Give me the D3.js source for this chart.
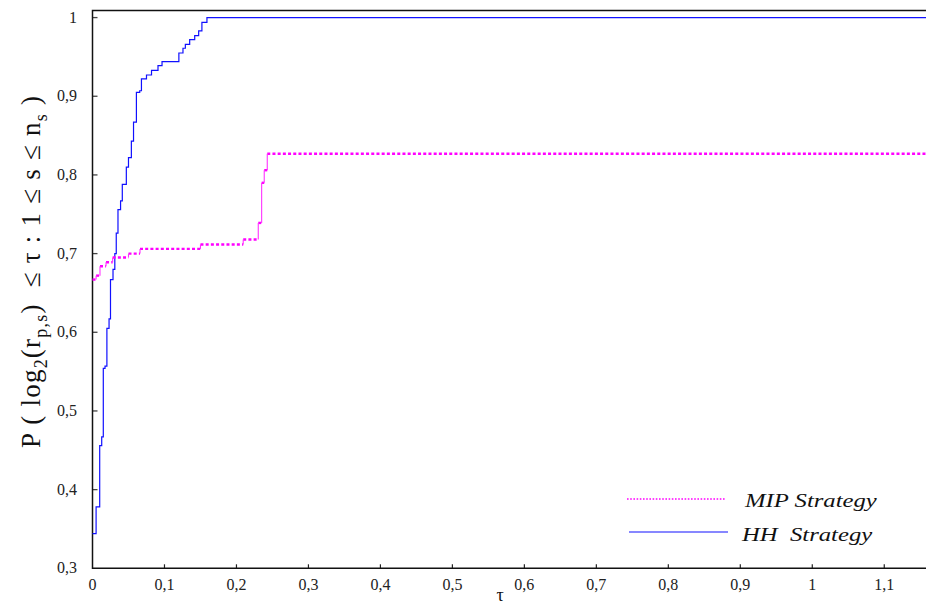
<!DOCTYPE html>
<html>
<head>
<meta charset="utf-8">
<script src="https://cdn.jsdelivr.net/npm/d3@7"></script>
<style>
  body { margin: 0; background: #fff; }
</style>
</head>
<body>
<script>
var width  = 926;
var height = 607;

// performance profile data (tau, fraction), step after
var hhTau = [0, 0.005, 0.010, 0.0128, 0.015, 0.0174, 0.020, 0.023, 0.025, 0.0285, 0.031, 0.033,
             0.0354, 0.039, 0.0414, 0.047, 0.050, 0.054, 0.057, 0.061, 0.0656, 0.068, 0.075,
             0.082, 0.091, 0.0966, 0.120, 0.1257, 0.129, 0.135, 0.142, 0.1475, 0.152, 0.159, 1.16];
var hhVal = [0.344, 0.378, 0.456, 0.467, 0.554, 0.557, 0.605, 0.617, 0.667, 0.680, 0.700, 0.726,
             0.756, 0.767, 0.788, 0.810, 0.822, 0.843, 0.867, 0.905, 0.907, 0.922, 0.927,
             0.933, 0.939, 0.944, 0.955, 0.961, 0.966, 0.972, 0.977, 0.983, 0.994, 1.0, 1.0];

var mipTau = [0, 0.005, 0.0104, 0.0188, 0.028, 0.050, 0.066, 0.150, 0.2094, 0.2303, 0.235, 0.2386, 0.2428, 1.16];
var mipVal = [0.667, 0.672, 0.684, 0.689, 0.695, 0.700, 0.706, 0.7115, 0.718, 0.739, 0.790, 0.806, 0.827, 0.827];

var xTicks = [0, 0.1, 0.2, 0.3, 0.4, 0.5, 0.6, 0.7, 0.8, 0.9, 1, 1.1];
var yTicks = [0.3, 0.4, 0.5, 0.6, 0.7, 0.8, 0.9, 1];
var seriesNames = ['MIP Strategy', 'HH  Strategy'];

var serif = "'Liberation Serif', 'Times New Roman', Times, serif";
var margin = { left: 92.5, top: 10.5, right: 0, bottom: 38.7 };

var x = d3.scaleLinear().domain([0, 1.158]).range([margin.left, width - margin.right]);
var y = d3.scaleLinear().domain([0.3, 1.009]).range([height - margin.bottom, margin.top]);

var fmt = function(d){ return String(d).replace('.', ','); };

var svg = d3.select('body')
            .append('svg')
            .attr('width', width)
            .attr('height', height)
            .attr('font-family', serif)
            .style('font-family', serif);

// ticks (inside)
svg.append('g').selectAll('line')
   .data(yTicks.slice(1))
   .enter().append('line')
   .attr('x1', x(0)).attr('x2', x(0) + 5)
   .attr('y1', function(d){ return y(d); }).attr('y2', function(d){ return y(d); })
   .attr('stroke', '#444').attr('stroke-width', 1.3);

svg.append('g').selectAll('line')
   .data(xTicks.slice(1))
   .enter().append('line')
   .attr('x1', function(d){ return x(d); }).attr('x2', function(d){ return x(d); })
   .attr('y1', y(0.3)).attr('y2', y(0.3) - 4)
   .attr('stroke', '#222').attr('stroke-width', 1.2);

// tick labels
svg.append('g').selectAll('text')
   .data(yTicks)
   .enter().append('text')
   .attr('x', 77).attr('y', function(d){ return y(d) + 5; })
   .attr('text-anchor', 'end')
   .attr('font-size', 16).attr('fill', '#222')
   .text(fmt);

svg.append('g').selectAll('text')
   .data(xTicks)
   .enter().append('text')
   .attr('x', function(d){ return x(d); }).attr('y', 590)
   .attr('text-anchor', 'middle')
   .attr('font-size', 16).attr('fill', '#222')
   .text(fmt);

// frame: left, bottom, top
svg.append('path')
   .attr('d', 'M' + width + ',' + y(1.009) + 'H' + x(0) + 'V' + y(0.3) + 'H' + width)
   .attr('fill', 'none').attr('stroke', '#111').attr('stroke-width', 1.5);

// HH series
var hh = hhTau.map(function(t, i){ return [t, hhVal[i]]; });
var line = d3.line()
             .x(function(d){ return x(d[0]); })
             .y(function(d){ return y(d[1]); })
             .curve(d3.curveStepAfter);

svg.append('path')
   .attr('d', line(hh))
   .attr('fill', 'none').attr('stroke', '#1010ff').attr('stroke-width', 1.2);

// MIP series: dotted flats, thin risers
var mip = mipTau.map(function(t, i){ return [t, mipVal[i]]; });
var flats = mip.slice(0, -1).map(function(d, i){ return [d, mip[i + 1]]; });

svg.append('g').selectAll('line')
   .data(flats)
   .enter().append('line')
   .attr('x1', function(d){ return x(d[0][0]); })
   .attr('x2', function(d){ return x(d[1][0]); })
   .attr('y1', function(d){ return y(d[0][1]); })
   .attr('y2', function(d){ return y(d[0][1]); })
   .attr('stroke', '#ff00ff').attr('stroke-width', 2.4)
   .attr('stroke-dasharray', '3,2.2');

svg.append('g').selectAll('line')
   .data(flats)
   .enter().append('line')
   .attr('x1', function(d){ return x(d[1][0]); })
   .attr('x2', function(d){ return x(d[1][0]); })
   .attr('y1', function(d){ return y(d[0][1]); })
   .attr('y2', function(d){ return y(d[1][1]); })
   .attr('stroke', '#ff33ff').attr('stroke-width', 1.1);

// legend
svg.append('line')
   .attr('x1', 627).attr('x2', 725).attr('y1', 499).attr('y2', 499)
   .attr('stroke', '#ff00ff').attr('stroke-width', 1.6)
   .attr('stroke-dasharray', '1.6,1.6');
svg.append('line')
   .attr('x1', 629).attr('x2', 728).attr('y1', 532).attr('y2', 532)
   .attr('stroke', '#1010ff').attr('stroke-width', 1.2);

svg.append('g').selectAll('text')
   .data(seriesNames)
   .enter().append('text')
   .attr('transform', function(d, i){
       return i === 0 ? 'translate(745,507) scale(1.3,1)' : 'translate(742,541) scale(1.3,1)';
   })
   .attr('font-size', 19).attr('font-style', 'italic').attr('fill', '#111')
   .style('white-space', 'pre')
   .text(function(d){ return d; });

// axis titles
svg.append('text')
   .attr('x', 500).attr('y', 601)
   .attr('text-anchor', 'middle')
   .attr('font-size', 18).attr('fill', '#111')
   .text('τ');

var ylab = svg.append('text')
   .attr('transform', 'translate(40,272) rotate(-90)')
   .attr('text-anchor', 'middle')
   .attr('font-size', 27).attr('fill', '#111')
   .attr('textLength', 352).attr('lengthAdjust', 'spacing');
ylab.append('tspan').style('white-space', 'pre').text('P ( log');
ylab.append('tspan').attr('font-size', 18).attr('dy', 7).text('2');
ylab.append('tspan').attr('dy', -7).text('(r');
ylab.append('tspan').attr('font-size', 18).attr('dy', 7).text('p,s');
ylab.append('tspan').attr('dy', -7).style('white-space', 'pre').text(')  ≤ τ : 1 ≤ s ≤ n');
ylab.append('tspan').attr('font-size', 18).attr('dy', 7).text('s');
ylab.append('tspan').attr('dy', -7).style('white-space', 'pre').text(' )');
</script>
</body>
</html>
